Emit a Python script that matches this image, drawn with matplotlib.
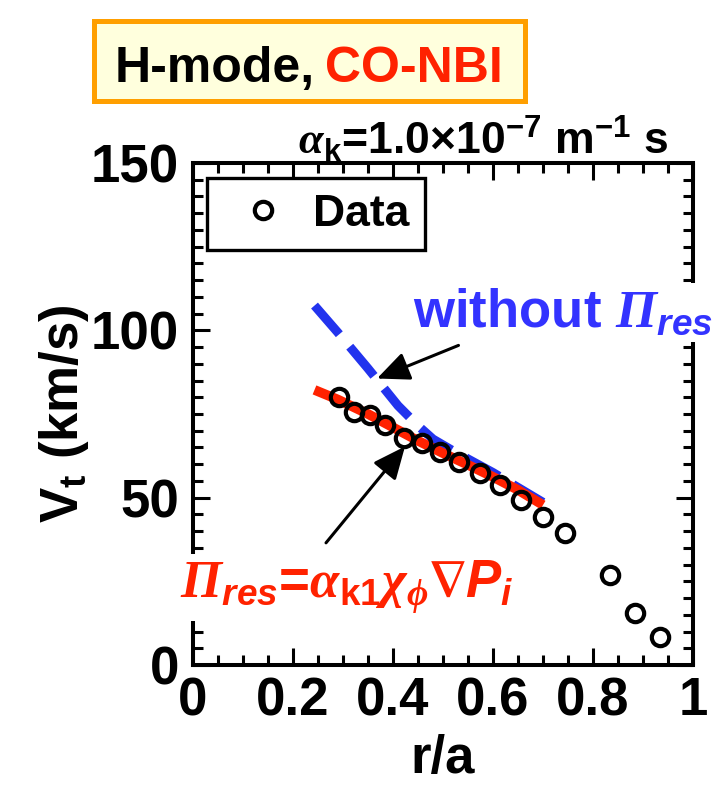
# -*- coding: utf-8 -*-

import numpy as np
import matplotlib as mpl
mpl.use('Agg')
import matplotlib.pyplot as plt
from matplotlib.patches import Rectangle
from matplotlib.ticker import MultipleLocator

# measured data (r/a, Vt km/s)
r_data = [0.291, 0.321, 0.353, 0.384, 0.421, 0.457, 0.494, 0.531,
          0.574, 0.614, 0.655, 0.699, 0.744, 0.834, 0.884, 0.934]
v_data = [80.2, 75.7, 74.7, 71.7, 67.7, 66.2, 63.7, 60.7,
          57.3, 53.8, 49.3, 44.3, 39.3, 26.9, 15.4, 8.5]

# model with residual stress
r_res = [0.243, 0.29, 0.35, 0.40, 0.45, 0.50, 0.55, 0.60, 0.65, 0.70]
v_res = [82.2, 79.3, 75.0, 71.0, 67.0, 63.3, 59.8, 56.2, 52.3, 47.8]

# model without residual stress
r_nores = [0.243, 0.29, 0.35, 0.41, 0.45, 0.48, 0.52, 0.60, 0.70]
v_nores = [107.4, 99.3, 88.6, 77.5, 71.5, 67.5, 64.0, 57.5, 48.6]

xticks = [0, 0.2, 0.4, 0.6, 0.8, 1]
xticklabels = ['0', '0.2', '0.4', '0.6', '0.8', '1']
yticks = [0, 50, 100, 150]

RED = '#FF2200'
BLUE = '#3333FF'
W, H = 725, 793

plt.rcParams['font.family'] = ['Liberation Sans', 'DejaVu Sans']
plt.rcParams['font.weight'] = 'bold'
plt.rcParams['axes.labelweight'] = 'bold'
plt.rcParams['mathtext.fontset'] = 'custom'
plt.rcParams['mathtext.rm'] = 'Liberation Sans:bold'
plt.rcParams['mathtext.bf'] = 'Liberation Sans:bold'
plt.rcParams['mathtext.it'] = 'Liberation Sans:bold:italic'
plt.rcParams['mathtext.sf'] = 'Liberation Serif:italic'
plt.rcParams['mathtext.fallback'] = 'stix'


def px(x, y):
  # figure pixel -> figure fraction
  return x / W, 1 - y / H


fig = plt.figure(figsize=(7.25, 7.93), dpi=100)
ax = fig.add_axes([193 / W, 1 - 665 / H, 500 / W, 502 / H])

ax.plot(r_nores, v_nores, color='#2233EE', lw=6.5, dashes=(4.2, 1.8),
        solid_capstyle='butt', dash_capstyle='butt', zorder=2)
ax.plot(r_res, v_res, color=RED, lw=7, solid_capstyle='butt', zorder=3)
ax.plot(r_data, v_data, 'o', mfc='none', mec='k', ms=12.5, mew=3,
        label='Data', zorder=4)

ax.set_xlim(0, 1)
ax.set_ylim(0, 150)
ax.set_xticks(xticks)
ax.set_xticklabels(xticklabels)
ax.set_yticks(yticks)
ax.xaxis.set_minor_locator(MultipleLocator(0.05))
ax.yaxis.set_minor_locator(MultipleLocator(5))
ax.tick_params(which='both', direction='in', top=True, right=True, width=2.2)
ax.tick_params(which='major', length=12, labelsize=38)
ax.tick_params(which='minor', length=7)
ax.tick_params(axis='y', pad=10)
ax.tick_params(axis='x', pad=8)
for s in ax.spines.values():
  s.set_linewidth(2.9)

ax.set_xlabel('r/a', fontsize=38, fontweight='bold', labelpad=6)
ax.set_ylabel(r'V$_\mathrm{t}$ (km/s)', fontsize=38, fontweight='bold',
              labelpad=0)

leg = ax.legend(loc='upper left', bbox_to_anchor=(0.027, 0.97), fontsize=32,
                numpoints=1, handlelength=1.85, handletextpad=0.2,
                borderpad=0.35, borderaxespad=0, fancybox=False,
                edgecolor='k', framealpha=1)
leg.get_frame().set_linewidth(2.4)

# arrows
ax.annotate('', xy=(0.368, 85.6), xytext=(0.531, 95.5),
            arrowprops=dict(arrowstyle='-|>,head_length=0.9,head_width=0.4',
                            mutation_scale=22, lw=2.2, color='k',
                            shrinkA=0, shrinkB=0))
ax.annotate('', xy=(0.424, 65.3), xytext=(0.266, 36.5),
            arrowprops=dict(arrowstyle='-|>,head_length=0.9,head_width=0.4',
                            mutation_scale=22, lw=2.2, color='k',
                            shrinkA=0, shrinkB=0))

# annotations with white background
fig.text(*px(413, 327), r'without $\mathsf{\Pi}_{\mathit{res}}$', color=BLUE,
         fontsize=38, ha='left', va='baseline', zorder=5,
         bbox=dict(facecolor='white', edgecolor='none', pad=3))
fig.text(*px(180, 598),
         r'$\mathsf{\Pi}_{\mathit{res}}$=$\mathsf{\alpha}_{\mathrm{k1}}'
         r'\mathsf{\chi}_{\mathsf{\phi}}\mathbf{\nabla}\mathit{P}_{\mathit{i}}$',
         color=RED, fontsize=38, ha='left', va='baseline', zorder=5,
         bbox=dict(facecolor='white', edgecolor='none', pad=3))

fig.text(*px(298, 155),
         r'$\mathsf{\alpha}_{\mathrm{k}}$=1.0×10$^{-7}$ m$^{-1}$ s',
         fontsize=32, ha='left', va='baseline')

# title box
fig.patches.append(Rectangle(px(94.5, 100.5), 430 / W, 80 / H,
                             transform=fig.transFigure, facecolor='#FFFFDD',
                             edgecolor='#FF9F00', lw=3.6))
fig.text(*px(115, 82), 'H-mode,', fontsize=36, ha='left', va='baseline')
fig.text(*px(325, 82), 'CO-NBI', fontsize=36, color=RED, ha='left',
         va='baseline')

fig.savefig('out.png', dpi=100)
